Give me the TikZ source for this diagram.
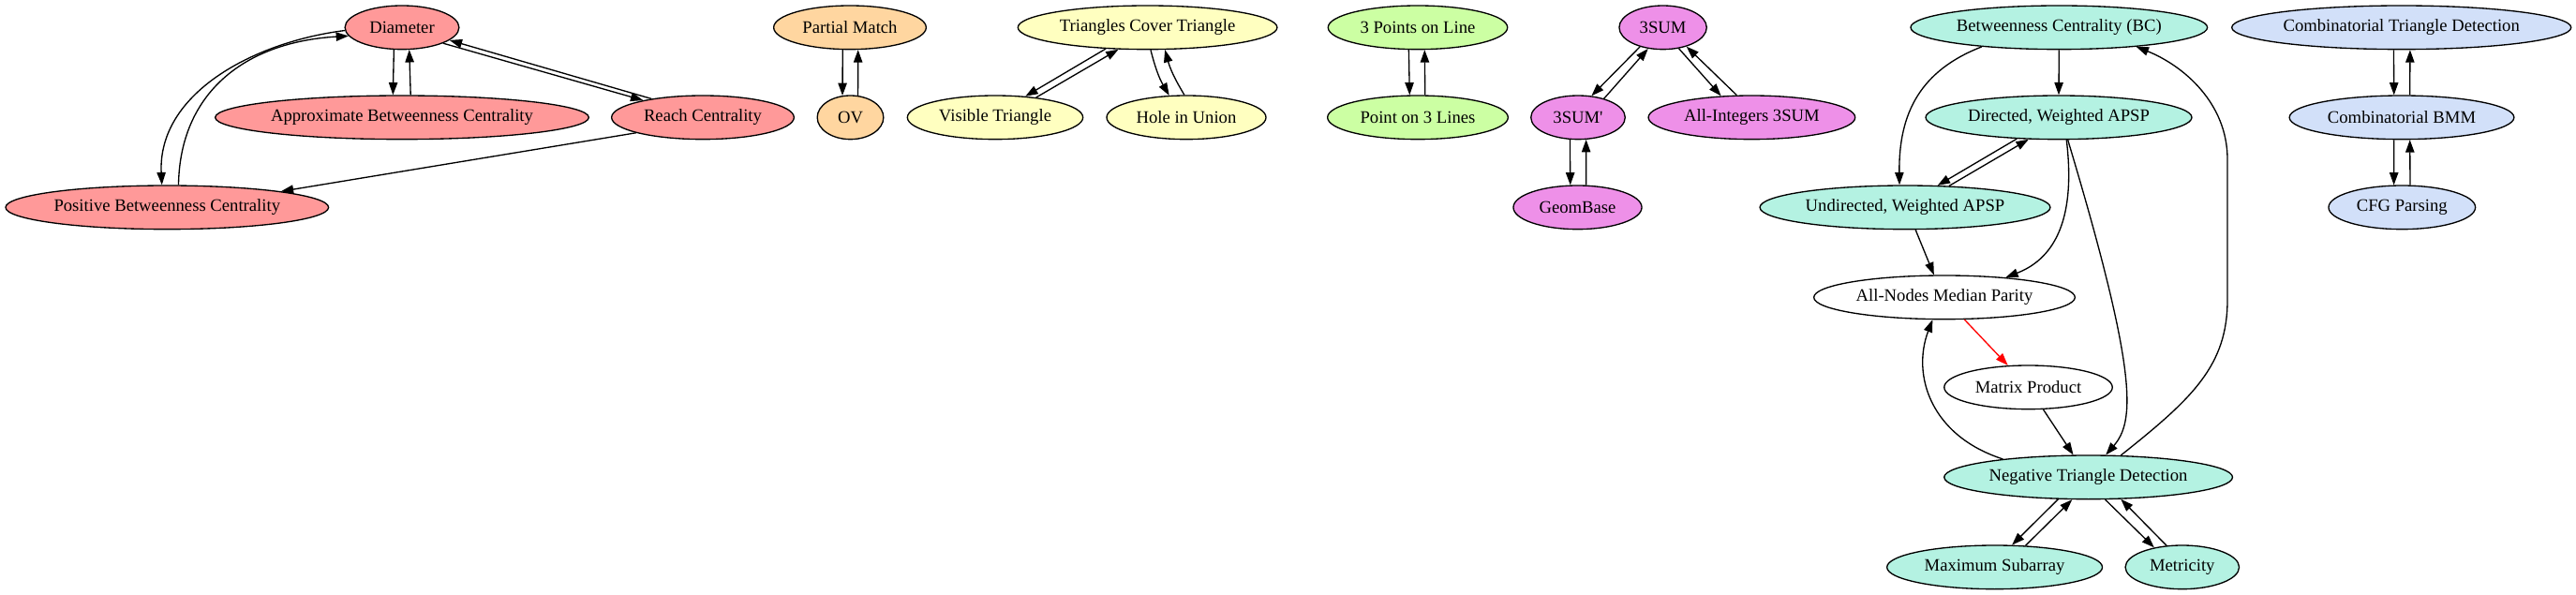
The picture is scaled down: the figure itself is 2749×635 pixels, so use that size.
\documentclass[tikz,border=0pt]{standalone}
\usepackage{fontspec}
\setmainfont{Liberation Serif}
\usetikzlibrary{arrows.meta,shapes.geometric}
\definecolor{cred}{HTML}{FF9999}
\definecolor{cpeach}{HTML}{FFD6A0}
\definecolor{cyel}{HTML}{FFFFC0}
\definecolor{cgrn}{HTML}{CCFFA3}
\definecolor{cvio}{HTML}{EE90E8}
\definecolor{cteal}{HTML}{B4F2E2}
\definecolor{cblue}{HTML}{D2E0F9}
\tikzset{
  gv/.style={ellipse, draw=black, line width=1pt, inner sep=0pt, minimum height=35pt,
    font=\fontsize{14pt}{16pt}\selectfont},
  e/.style={line width=1pt, -{Triangle[length=10pt,width=7pt]}},
  ered/.style={e, draw=red, -{Triangle[length=10pt,width=7pt,fill=red]}},
}
\begin{document}
\begin{tikzpicture}[x=0.75pt,y=-0.75pt]
\useasboundingbox (0,0) rectangle (2749,635);
% red group
\node[gv, fill=cred, minimum width=91.3pt]  (dia) at (429,29.33) {\makebox[0pt]{Diameter}};
\node[gv, fill=cred, minimum width=299pt]   (apx) at (429,125.33) {\makebox[0pt]{Approximate Betweenness Centrality}};
\node[gv, fill=cred, minimum width=146pt]   (rch) at (750,125.33) {\makebox[0pt]{Reach Centrality}};
\node[gv, fill=cred, minimum width=258.5pt] (pbc) at (178.3,221.33) {\makebox[0pt]{Positive Betweenness Centrality}};
% orange
\node[gv, fill=cpeach, minimum width=122pt] (pm) at (907,29.33) {\makebox[0pt]{Partial Match}};
\node[gv, fill=cpeach, minimum width=53pt]  (ov) at (907.5,125.33) {\makebox[0pt]{OV}};
% yellow
\node[gv, fill=cyel, minimum width=207.5pt] (tct) at (1224.6,29.33) {\makebox[0pt]{Triangles Cover Triangle}};
\node[gv, fill=cyel, minimum width=140.5pt] (vis) at (1062,125.33) {\makebox[0pt]{Visible Triangle}};
\node[gv, fill=cyel, minimum width=127.5pt] (hol) at (1266,125.33) {\makebox[0pt]{Hole in Union}};
% green
\node[gv, fill=cgrn, minimum width=143.6pt] (tpl) at (1513,29.33) {\makebox[0pt]{3 Points on Line}};
\node[gv, fill=cgrn, minimum width=144.5pt] (ptl) at (1513,125.33) {\makebox[0pt]{Point on 3 Lines}};
% violet
\node[gv, fill=cvio, minimum width=70pt]    (ts)   at (1774.6,29.33) {\makebox[0pt]{3SUM}};
\node[gv, fill=cvio, minimum width=75.4pt]  (tsp)  at (1684,125.33) {\makebox[0pt]{3SUM\textquotesingle}};
\node[gv, fill=cvio, minimum width=165.5pt] (aint) at (1869.4,125.33) {\makebox[0pt]{All-Integers 3SUM}};
\node[gv, fill=cvio, minimum width=102.8pt] (geo)  at (1683.5,221.33) {\makebox[0pt]{GeomBase}};
% teal
\node[gv, fill=cteal, minimum width=237.5pt] (bc)  at (2197.3,29.33) {\makebox[0pt]{Betweenness Centrality (BC)}};
\node[gv, fill=cteal, minimum width=213pt]   (dw)  at (2197,125.33) {\makebox[0pt]{Directed, Weighted APSP}};
\node[gv, fill=cteal, minimum width=232.4pt] (uw)  at (2033,221.33) {\makebox[0pt]{Undirected, Weighted APSP}};
\node[gv, fill=white, minimum width=209pt]   (anmp) at (2075,317.33) {\makebox[0pt]{All-Nodes Median Parity}};
\node[gv, fill=white, minimum width=134.6pt] (mp)  at (2164.5,413.33) {\makebox[0pt]{Matrix Product}};
\node[gv, fill=cteal, minimum width=230.8pt] (ntd) at (2228.6,509.33) {\makebox[0pt]{Negative Triangle Detection}};
\node[gv, fill=cteal, minimum width=172.4pt] (msa) at (2128.6,605.33) {\makebox[0pt]{Maximum Subarray}};
\node[gv, fill=cteal, minimum width=91.1pt]  (met) at (2328.8,605.33) {\makebox[0pt]{Metricity}};
% blue
\node[gv, fill=cblue, minimum width=271.6pt] (ctd)  at (2562.7,29.33) {\makebox[0pt]{Combinatorial Triangle Detection}};
\node[gv, fill=cblue, minimum width=179.8pt] (cbmm) at (2563,125.33) {\makebox[0pt]{Combinatorial BMM}};
\node[gv, fill=cblue, minimum width=117.5pt] (cfg)  at (2563.3,221.33) {\makebox[0pt]{CFG Parsing}};

% red edges
\draw[e] (dia.-110.8) -- (apx.112.2);
\draw[e] (apx.69.2) -- (dia.-72.5);
\draw[e] (dia.-21) -- (rch.164);
\draw[e] (rch.160) -- (dia.-15.4);
\draw[e] (dia.183.5) .. controls (270,45) and (168,100) .. (pbc.103.4);
\draw[e] (pbc.63.4) .. controls (192,100) and (260,45) .. (dia.189.5);
\draw[e] (rch.-167) -- (pbc.8);
% orange
\draw[e] (pm.-108.7) -- (ov.110.3);
\draw[e] (ov.71.3) -- (pm.-70.7);
% yellow
\draw[e] (tct.-153.8) -- (vis.35.6);
\draw[e] (vis.26.9) -- (tct.-143.6);
\draw[e] (tct.-82.2) to[bend right=8] (hol.128.3);
\draw[e] (hol.95.7) to[bend left=8] (tct.-52.4);
% green
\draw[e] (tpl.-112.3) -- (ptl.110.8);
\draw[e] (ptl.72) -- (tpl.-73.5);
% violet
\draw[e] (ts.-140.8) -- (tsp.58.4);
\draw[e] (tsp.36.7) -- (ts.-125.5);
\draw[e] (ts.-53.7) -- (aint.145.1);
\draw[e] (aint.124.5) -- (ts.-39.2);
\draw[e] (tsp.-110.3) -- (geo.108.8);
\draw[e] (geo.69.5) -- (tsp.-70.2);
% teal
\draw[e] (bc.-90) -- (dw.90);
\draw[e] (bc.-166.2) .. controls (2050,75) and (2026,120) .. (uw.104);
\draw[e] (dw.-153.5) -- (uw.34.5);
\draw[e] (uw.26.2) -- (dw.-144.2);
\draw[e] (uw.-65.4) -- (anmp.115.6);
\draw[e] (dw.-71) .. controls (2215,230) and (2195,275) .. (anmp.18.7);
\draw[e] (dw.-68) .. controls (2282,400) and (2278,450) .. (ntd.52.7);
\draw[ered] (anmp.-48) -- (mp.133.5);
\draw[e] (mp.-56) -- (ntd.124);
\draw[e] (ntd.168.1) .. controls (2060,465) and (2040,400) .. (anmp.-118.5);
\draw[e] (ntd.34) .. controls (2340,425) and (2377,390) .. (2377,320) -- (2377,170)
   .. controls (2377,110) and (2330,70) .. (bc.-14);
\draw[e] (ntd.-144.2) -- (msa.52.3);
\draw[e] (msa.35.2) -- (ntd.-126.9);
\draw[e] (ntd.-53.2) -- (met.145.2);
\draw[e] (met.126) -- (ntd.-34.2);
% blue
\draw[e] (ctd.-109.1) -- (cbmm.109.8);
\draw[e] (cbmm.70.2) -- (ctd.-69.7);
\draw[e] (cbmm.-109.8) -- (cfg.110.5);
\draw[e] (cfg.70.8) -- (cbmm.-70.2);
\end{tikzpicture}
\end{document}
